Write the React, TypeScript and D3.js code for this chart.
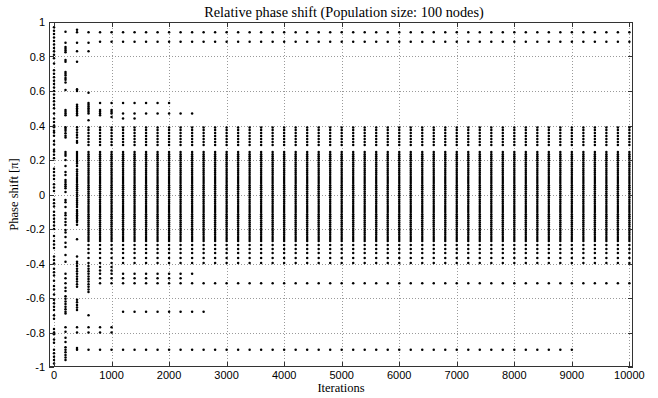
import React from 'react';
import * as d3 from 'd3';

// iterations at which the phases were sampled
const iterations = [
  0, 200, 400, 600, 800, 1000, 1200, 1400, 1600, 1800, 2000, 2200, 2400, 2600, 2800,
  3000, 3200, 3400, 3600, 3800, 4000, 4200, 4400, 4600, 4800, 5000, 5200, 5400, 5600,
  5800, 6000, 6200, 6400, 6600, 6800, 7000, 7200, 7400, 7600, 7800, 8000, 8200, 8400,
  8600, 8800, 9000, 9200, 9400, 9600, 9800, 10000,
];

const xTicks = [0, 1000, 2000, 3000, 4000, 5000, 6000, 7000, 8000, 9000, 10000];
const yTicks = [-1, -0.8, -0.6, -0.4, -0.2, 0, 0.2, 0.4, 0.6, 0.8, 1];

// the central band of phases once the population has settled (from iteration 600)
const steadyBand = [
  0.388, 0.374, 0.357, 0.339, 0.322, 0.304, 0.287,
  0.246, 0.234, 0.222, 0.21, 0.198, 0.186, 0.174, 0.162, 0.15, 0.138, 0.126, 0.114,
  0.102, 0.09, 0.078, 0.066, 0.054, 0.042, 0.03, 0.018, 0.006, -0.006, -0.018, -0.03,
  -0.042, -0.054, -0.066, -0.078, -0.09, -0.102, -0.114, -0.126, -0.138, -0.15, -0.162,
  -0.174, -0.186, -0.198, -0.21, -0.222, -0.234, -0.246, -0.258, -0.27,
  -0.293, -0.316, -0.339, -0.368, -0.397,
];

// transient columns
const col0 = [
  0.97, 0.95, 0.93, 0.91, 0.89, 0.87, 0.85, 0.83, 0.81, 0.79, 0.76, 0.72, 0.7, 0.68,
  0.66, 0.64, 0.62, 0.6, 0.58, 0.56, 0.54, 0.52, 0.5, 0.47, 0.44, 0.42, 0.4, 0.39, 0.37,
  0.36, 0.34, 0.31, 0.29, 0.26, 0.25, 0.23, 0.21, 0.15, 0.13, 0.11, 0.09, 0.06, 0.04,
  0.02, -0.03, -0.05, -0.07, -0.1, -0.12, -0.14, -0.16, -0.18, -0.2, -0.24, -0.27, -0.29,
  -0.31, -0.36, -0.38, -0.4, -0.43, -0.45, -0.47, -0.5, -0.53, -0.55, -0.58, -0.61,
  -0.63, -0.65, -0.67, -0.7, -0.72, -0.78, -0.8, -0.81, -0.84, -0.86, -0.9, -0.92,
  -0.94, -0.96, -0.98,
];
const col200 = [
  0.944, 0.88, 0.855, 0.845, 0.835, 0.825, 0.78, 0.77, 0.71, 0.7, 0.69, 0.675, 0.665,
  0.65, 0.606, 0.49, 0.48, 0.47, 0.46, 0.39, 0.38, 0.37, 0.355, 0.34, 0.33,
  0.246, 0.235, 0.225, 0.2, 0.165, 0.13, 0.113, 0.084, 0.072, 0.06, 0.048, 0.036, 0.015,
  -0.032, -0.045, -0.072, -0.107, -0.12, -0.14, -0.16, -0.177, -0.206, -0.22, -0.246,
  -0.28, -0.304, -0.35, -0.39,
  -0.46, -0.485, -0.515, -0.54, -0.56, -0.59, -0.605, -0.62, -0.635, -0.65, -0.665,
  -0.68, -0.69, -0.77, -0.795, -0.83, -0.855, -0.885, -0.9, -0.915, -0.93, -0.945, -0.96,
];
const col400 = [
  0.955, 0.94, 0.88, 0.83, 0.77, 0.61, 0.6, 0.52, 0.51, 0.5, 0.49, 0.48, 0.47, 0.46,
  0.39, 0.375, 0.36, 0.345, 0.33, 0.31, 0.3,
  0.246, 0.235, 0.223, 0.212, 0.2, 0.19, 0.18, 0.165, 0.145, 0.133, 0.12, 0.108, 0.096,
  0.084, 0.072, 0.06, 0.048, 0.036, 0.024, 0.012, 0, -0.012, -0.024, -0.036, -0.048,
  -0.06, -0.072, -0.09, -0.1, -0.11, -0.12, -0.13, -0.14, -0.15, -0.16, -0.175, -0.26,
  -0.36, -0.39,
  -0.4, -0.415, -0.43, -0.445, -0.46, -0.475, -0.49, -0.505, -0.52, -0.535, -0.61,
  -0.625, -0.64, -0.655, -0.67, -0.77, -0.8, -0.89, -0.9,
];
const col600 = [
  0.94, 0.88, 0.83, 0.59, 0.53, 0.52, 0.51, 0.5, 0.49, 0.48, 0.47, 0.43, -0.415, -0.43,
  -0.445, -0.46, -0.475, -0.49, -0.505, -0.52, -0.535, -0.55, -0.565, -0.7, -0.77, -0.8,
  -0.9,
];
const col800 = [
  0.94, 0.885, 0.53, 0.49, 0.48, 0.47, 0.46, -0.42, -0.44, -0.46, -0.485, -0.515, -0.77,
  -0.8, -0.9,
];
const col1000 = [
  0.94, 0.885, 0.53, 0.49, 0.48, 0.47, 0.45, -0.42, -0.44, -0.46, -0.485, -0.515, -0.77,
  -0.8, -0.9,
];

// isolated levels that persist over a range of iterations (from 1200 on)
const rowValues = [0.94, 0.885, 0.53, 0.47, 0.44, -0.46, -0.485, -0.515, -0.68, -0.9];
const rowFrom = [1200, 1200, 1200, 1200, 1200, 1200, 1200, 1200, 1200, 1200];
const rowTo = [10000, 10000, 2000, 2400, 1400, 2400, 2200, 10000, 2600, 9000];

const W = 658;
const H = 398;
const L = 49, R = 633, T = 22, B = 367;

function buildPoints() {
  const pts: { it: number; v: number }[] = [];
  const early: Record<number, number[]> = { 0: col0, 200: col200, 400: col400, 600: col600, 800: col800, 1000: col1000 };
  iterations.forEach((it) => {
    if (early[it]) early[it].forEach((v) => pts.push({ it, v }));
    if (it >= 600) steadyBand.forEach((v) => pts.push({ it, v }));
    rowValues.forEach((v, i) => {
      if (it >= rowFrom[i] && it <= rowTo[i]) pts.push({ it, v });
    });
  });
  return pts;
}

export default function App() {
  const x = d3.scaleLinear().domain([-87, 10063]).range([L, R]);
  const y = d3.scaleLinear().domain([-1, 1]).range([B, T]);
  const points = buildPoints();
  const tickFont = '"Liberation Sans", Arial, sans-serif';
  const serif = '"Liberation Serif", "Times New Roman", serif';
  const px = (v: number) => Math.round(v) + 0.5;

  return (
    <svg width={W} height={H} style={{ position: 'absolute', left: 0, top: 0, background: '#fff' }}>
      <rect x={0} y={0} width={W} height={H} fill="#fff" />
      {/* grid */}
      <g stroke="#9a9a9a" strokeWidth={1} strokeDasharray="1,2" shapeRendering="crispEdges">
        {xTicks.map((t) => (
          <line key={'gx' + t} x1={px(x(t))} x2={px(x(t))} y1={T} y2={B} />
        ))}
        {yTicks.slice(1, -1).map((t) => (
          <line key={'gy' + t} x1={L} x2={R} y1={px(y(t))} y2={px(y(t))} />
        ))}
      </g>
      {/* data */}
      <g fill="#000">
        {points.map((p, i) => (
          <circle key={i} cx={x(p.it)} cy={y(p.v)} r={1.25} />
        ))}
      </g>
      {/* box + ticks */}
      <g stroke="#333" strokeWidth={1} fill="none" shapeRendering="crispEdges">
        <rect x={L + 0.5} y={T + 0.5} width={R - L - 1} height={B - T - 1} />
        {xTicks.map((t) => (
          <g key={'tx' + t}>
            <line x1={px(x(t))} x2={px(x(t))} y1={B} y2={B - 5} />
            <line x1={px(x(t))} x2={px(x(t))} y1={T} y2={T + 5} />
          </g>
        ))}
        {yTicks.map((t) => (
          <g key={'ty' + t}>
            <line x1={L} x2={L + 5} y1={px(y(t))} y2={px(y(t))} />
            <line x1={R} x2={R - 5} y1={px(y(t))} y2={px(y(t))} />
          </g>
        ))}
      </g>
      {/* tick labels */}
      <g fontFamily={tickFont} fontSize={11} fill="#000">
        {xTicks.map((t) => (
          <text key={'lx' + t} x={x(t)} y={B + 12} textAnchor="middle">{t}</text>
        ))}
        {yTicks.map((t) => (
          <text key={'ly' + t} x={L - 4} y={y(t) + 4} textAnchor="end">{String(t)}</text>
        ))}
      </g>
      {/* titles */}
      <text x={344} y={17} textAnchor="middle" fontFamily={serif} fontSize={14.3}>
        Relative phase shift (Population size: 100 nodes)
      </text>
      <text x={341} y={392} textAnchor="middle" fontFamily={serif} fontSize={12.5}>
        Iterations
      </text>
      <text transform={`translate(18,${(T + B) / 2}) rotate(-90)`} textAnchor="middle" fontFamily={serif} fontSize={12.5}>
        Phase shift [π]
      </text>
    </svg>
  );
}
